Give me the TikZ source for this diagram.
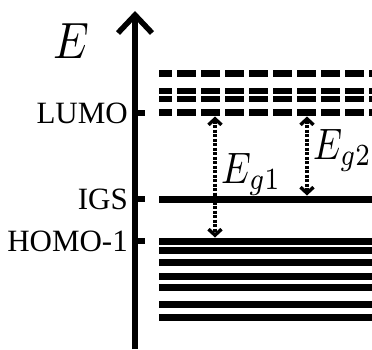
\documentclass[tikz,border=0pt]{standalone}
\usepackage{fontspec}
\setmainfont{Liberation Serif}
\usetikzlibrary{arrows.meta}
\begin{document}
\begin{tikzpicture}[x=1pt,y=-1pt,
  lvl/.style={line width=#1, line cap=butt},
  dlvl/.style={line width=#1, line cap=butt, dash pattern=on 19pt off 5pt, dash phase=6pt},
  tick/.style={line width=6pt, line cap=butt},
  lab/.style={anchor=east, inner sep=0pt, font=\fontsize{31}{31}\selectfont},
  barb/.tip={Straight Barb[length=6pt,width=13pt,line width=3.4pt]},
  gaparrow/.style={line width=3.4pt, dash pattern=on 3pt off 1.5pt, barb-barb},
  mlab/.style={inner sep=0pt, anchor=base west}]
\useasboundingbox (0,0) rectangle (372,349);
% axis
\coordinate (axb) at (135,349);
\coordinate (axt) at (135,15);
\draw[line width=5.5pt] (axb) -- (axt);
\draw[line width=5.5pt, line join=miter] (118,33) -- (axt) -- (152,33);
\node[inner sep=0pt] (Elab) at (71,41) {\scalebox{4.5}[5.1]{$E$}};
% level coordinates
\coordinate (lumo) at (135,113);
\coordinate (igs) at (135,199);
\coordinate (homo) at (135,241);
\draw[tick] (lumo) -- ++(9.5,0);
\draw[tick] (igs) -- ++(9.5,0);
\draw[tick] (homo) -- ++(9.5,0);
\node[lab] (lumolab) at (128,113) {LUMO};
\node[lab] (igslab) at (128,199) {IGS};
\node[lab] (homolab) at (128,241) {HOMO-1};
% unoccupied (dashed) levels
\draw[dlvl=6.5pt] (159,73.5) -- (372,73.5);
\draw[dlvl=5.8pt] (159,90.8) -- (372,90.8);
\draw[dlvl=5.8pt] (159,98.6) -- (372,98.6);
\draw[dlvl=6.5pt] (159,112.5) -- (372,112.5);
% gap state
\draw[lvl=7.2pt] (159,199.5) -- (372,199.5);
% occupied levels
\foreach \yy/\ww in {241.2/6.6, 250.5/6.6, 262.2/7, 276.3/7, 287.3/7, 304.5/7, 317/7}
  \draw[lvl=\ww pt] (159,\yy) -- (372,\yy);
% gap arrows
\coordinate (g1t) at (215,116.5);
\coordinate (g1b) at (215,237.5);
\coordinate (g2t) at (307,116.5);
\coordinate (g2b) at (307,195.5);
\draw[gaparrow] (g1t) -- (g1b);
\draw[gaparrow] (g2t) -- (g2b);
\node[mlab] (Eg1) at (221,183) {\scalebox{3.75}[4.4]{$E_{g1}$}};
\node[mlab] (Eg2) at (313,159) {\scalebox{3.65}[4.4]{$E_{g2}$}};
\end{tikzpicture}
\end{document}
